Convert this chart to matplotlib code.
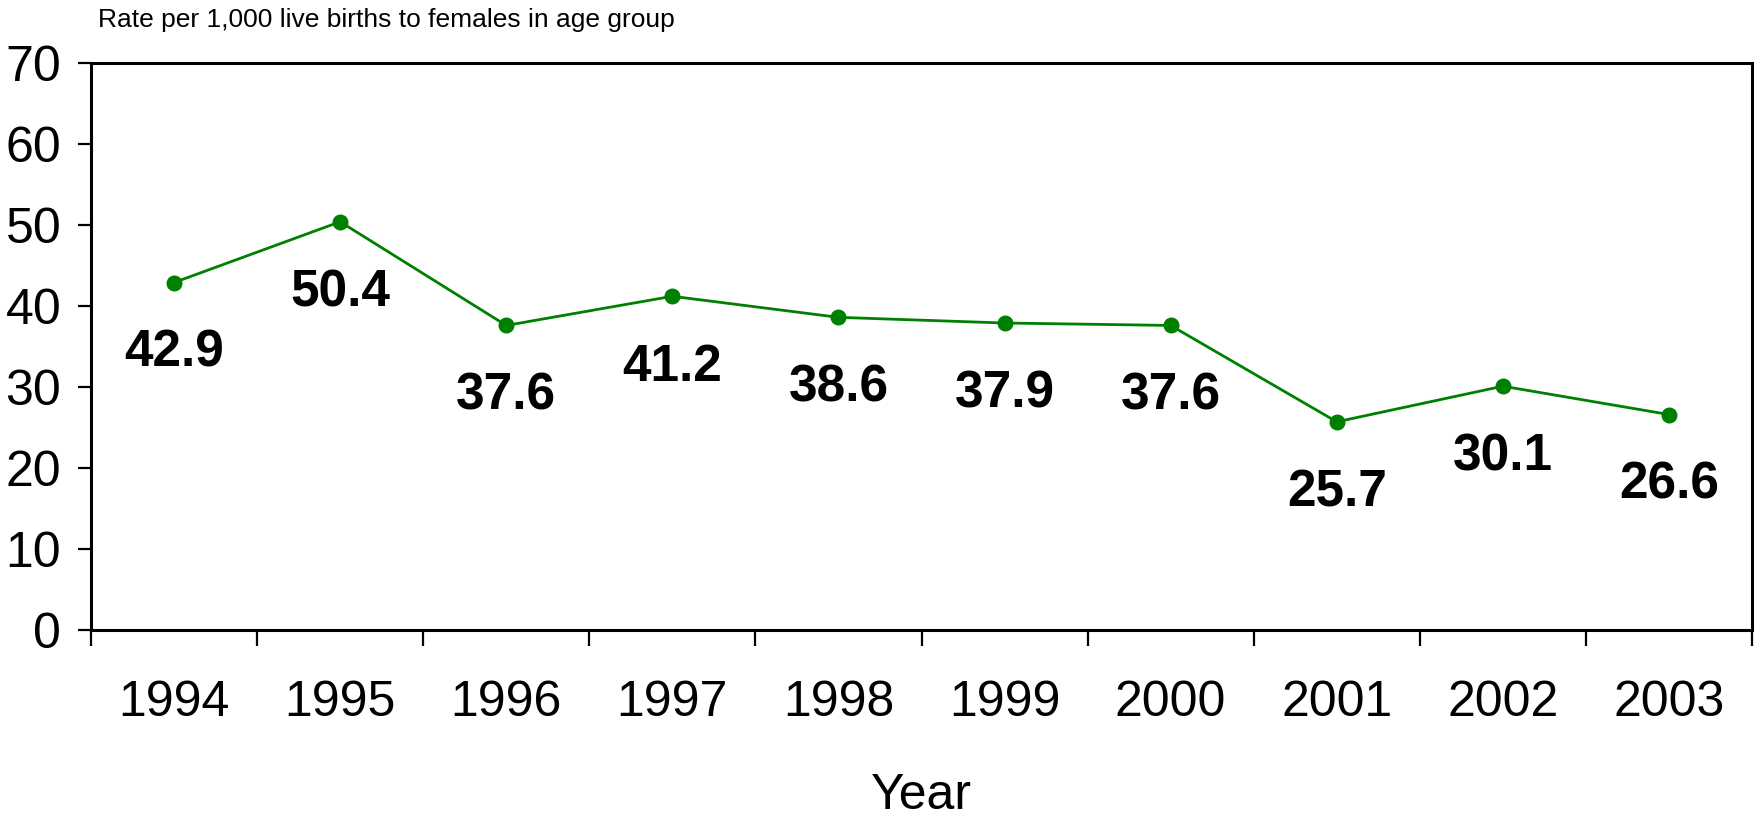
import matplotlib
matplotlib.use("Agg")
import matplotlib.pyplot as plt
from matplotlib import font_manager

years = ["1994", "1995", "1996", "1997", "1998", "1999", "2000", "2001", "2002", "2003"]
rates = [42.9, 50.4, 37.6, 41.2, 38.6, 37.9, 37.6, 25.7, 30.1, 26.6]
y_ticks = [0, 10, 20, 30, 40, 50, 60, 70]

names = {f.name for f in font_manager.fontManager.ttflist}
narrow = ["Liberation Sans Narrow", "Liberation Sans", "DejaVu Sans"] if "Liberation Sans Narrow" in names else ["Liberation Sans", "DejaVu Sans"]
regular = ["Liberation Sans", "DejaVu Sans"]

fig = plt.figure(figsize=(17.57, 8.16), dpi=100)
ax = fig.add_axes([91/1757, 1 - 630/816, (1752 - 91)/1757, (630 - 63)/816])

x = list(range(len(years)))
ax.plot(x, rates, color="#008000", lw=2.0, marker="o", markersize=10.5, zorder=3)

for xi, v in zip(x, rates):
    ax.annotate(f"{v:.1f}", (xi, v), xytext=(0, -51), textcoords="offset points",
                ha="center", va="center", fontsize=37, fontweight="bold", family=narrow)

ax.set_xlim(-0.5, len(years) - 0.5)
ax.set_ylim(0, 70)
ax.set_yticks(y_ticks)
ax.set_yticklabels([str(t) for t in y_ticks], family=narrow, fontsize=36)
ax.tick_params(axis="y", length=9.4, width=1.6, pad=12, direction="out")

ax.set_xticks(x)
ax.set_xticklabels(years, family=narrow, fontsize=36)
ax.tick_params(axis="x", which="major", length=0, pad=36)
ax.set_xticks([i - 0.5 for i in range(len(years) + 1)], minor=True)
ax.tick_params(axis="x", which="minor", length=11.5, width=1.6, direction="out")

for s in ax.spines.values():
    s.set_linewidth(2.2)
    s.set_color("black")

ax.set_xlabel("Year", family=narrow, fontsize=36, labelpad=34)
fig.text(98/1757, 1 - 20/816, "Rate per 1,000 live births to females in age group",
         family=regular, fontsize=19, ha="left", va="center")

fig.savefig("out.png", dpi=100)
